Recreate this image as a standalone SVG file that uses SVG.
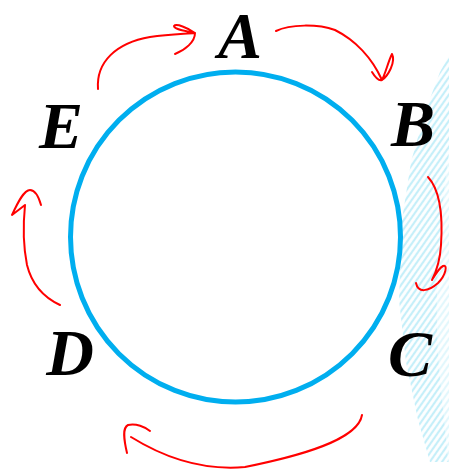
<svg xmlns="http://www.w3.org/2000/svg" width="449" height="473" viewBox="0 0 449 473">
  <style>
    .lbl { font-family: "Liberation Serif", "DejaVu Serif", serif; font-weight: bold; font-style: italic; font-size: 66px; fill: #000; text-anchor: middle; }
    .arrow { fill: none; stroke: #ff0000; stroke-width: 2; stroke-linecap: round; stroke-linejoin: round; }
  </style>
  <defs>
    <pattern id="hatch" patternUnits="userSpaceOnUse" width="5" height="5" patternTransform="rotate(-55)">
      <rect width="5" height="5" fill="#ffffff"/>
      <line x1="0" y1="2" x2="5" y2="2" stroke="#a6e6f6" stroke-width="2.2"/>
    </pattern>
  </defs>
  <rect width="449" height="473" fill="#ffffff"/>
  <g id="shading">
    <path d="M449,55 L440,72 L425,112 L411,162 L402,220 L399,300 L406,362 L418,420 L430,462 L449,462 Z" fill="url(#hatch)" opacity="0.65"/>
    <path d="M449,150 C440,220 432,300 440,380 L449,470 L449,150 Z" fill="#ffffff" opacity="0.5"/>
  </g>
  <g id="ring">
    <circle cx="235.5" cy="237" r="165" fill="none" stroke="#00aeef" stroke-width="5"/>
  </g>
  <g id="node-A"><text class="lbl" x="240" y="58">A</text></g>
  <g id="node-B"><text class="lbl" x="413" y="146">B</text></g>
  <g id="node-C"><text class="lbl" x="410" y="376">C</text></g>
  <g id="node-D"><text class="lbl" x="70" y="375">D</text></g>
  <g id="node-E"><text class="lbl" x="61" y="148">E</text></g>
  <g id="connectors">
    <path class="arrow" d="M98,89 C96,62 116,43 150,37 C170,34 185,34 195,33 C188,28 176,23 174,26 C174,30 188,31 195,33 C195,42 185,50 175,54"/>
    <path class="arrow" d="M276,31 C290,24 318,24 335,30 C355,40 372,58 382,80 M372,72 C375,77 379,81 382,80 C388,76 396,62 392,54 C388,62 386,72 382,80"/>
    <path class="arrow" d="M428,177 C440,190 443,215 441,245 C440,262 436,272 432,280 M416,283 C418,293 428,292 438,283 C446,275 448,264 443,266 C439,268 435,275 432,280"/>
    <path class="arrow" d="M362,415 C358,440 300,456 245,467 C200,471 160,455 131,437 M127,453 C124,440 122,428 128,425 C136,423 145,427 150,431"/>
    <path class="arrow" d="M60,305 C45,298 32,285 27,265 C23,245 23,225 25,205 L12,215 C18,202 24,190 30,190 C35,190 39,198 41,205"/>
  </g>
</svg>
